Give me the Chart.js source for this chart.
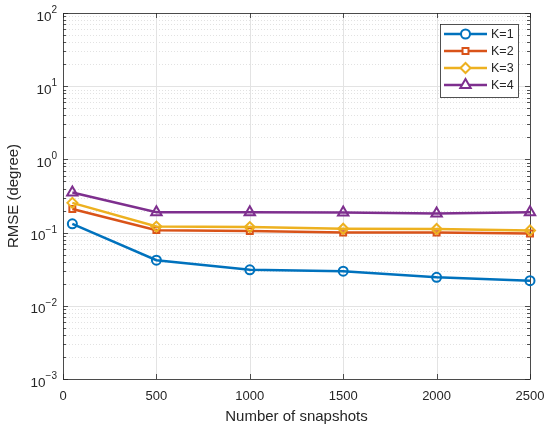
<!DOCTYPE html>
<html>
<head>
<meta charset="utf-8">
<script src="https://cdn.jsdelivr.net/npm/chart.js@4"></script>
<style>
html, body { margin: 0; padding: 0; background: #fff; }
#wrap { width: 550px; height: 430px; }
</style>
</head>
<body>
<div id="wrap"><canvas id="rmseGrafiek"></canvas></div>
<script>
// data
const snapshots = [50, 500, 1000, 1500, 2000, 2500];
const rmseK1 = [0.132, 0.042, 0.031, 0.0297, 0.0245, 0.022];
const rmseK2 = [0.21, 0.108, 0.105, 0.100, 0.100, 0.097];
const rmseK3 = [0.255, 0.121, 0.119, 0.113, 0.112, 0.107];
const rmseK4 = [0.354, 0.19, 0.19, 0.188, 0.182, 0.19];
const seriesLabels = ["K=1", "K=2", "K=3", "K=4"];
const xTicks = [0, 500, 1000, 1500, 2000, 2500];
const yExponents = [-3, -2, -1, 0, 1, 2];

const kleuren = ["#0072BD", "#D95319", "#EDB120", "#7E2F8E"];
const markers = ["circle", "rect", "rectRot", "triangle"];
const radii = [4.5, 4.2, 5, 6];
const tekstKleur = "#262626";
const fontNaam = '"Liberation Sans", Arial, sans-serif';

const reeksen = [rmseK1, rmseK2, rmseK3, rmseK4];

const datasets = reeksen.map((vals, i) => ({
    label: seriesLabels[i],
    data: snapshots.map((x, j) => ({ x, y: vals[j] })),
    borderColor: kleuren[i],
    backgroundColor: "rgba(0,0,0,0)",
    borderWidth: 2.5,
    pointStyle: markers[i],
    pointRadius: radii[i],
    pointBorderWidth: 2,
    pointBackgroundColor: "rgba(0,0,0,0)",
    pointBorderColor: kleuren[i],
    order: 4 - i,
    clip: false,
    tension: 0
}));

// rooster, kader, tekst en legende in MATLAB-stijl
const matlabStijl = {
    id: "matlabStijl",
    beforeDatasetsDraw(chart) {
        const { ctx, chartArea: a, scales } = chart;
        const sx = scales.x, sy = scales.y;
        ctx.save();

        // kleine rasterlijnen (stippel)
        ctx.strokeStyle = "#cfcfcf";
        ctx.lineWidth = 0.6;
        ctx.setLineDash([1, 2]);
        yExponents.slice(0, -1).forEach(e => {
            for (let m = 2; m <= 9; m++) {
                const y = Math.round(sy.getPixelForValue(m * Math.pow(10, e))) + 0.5;
                ctx.beginPath(); ctx.moveTo(a.left, y); ctx.lineTo(a.right, y); ctx.stroke();
            }
        });

        // grote rasterlijnen
        ctx.setLineDash([]);
        ctx.strokeStyle = "#e3e3e3";
        ctx.lineWidth = 1;
        yExponents.forEach(e => {
            const y = Math.round(sy.getPixelForValue(Math.pow(10, e))) + 0.5;
            ctx.beginPath(); ctx.moveTo(a.left, y); ctx.lineTo(a.right, y); ctx.stroke();
        });
        xTicks.forEach(v => {
            const x = Math.round(sx.getPixelForValue(v)) + 0.5;
            ctx.beginPath(); ctx.moveTo(x, a.top); ctx.lineTo(x, a.bottom); ctx.stroke();
        });

        // kader + tickjes
        ctx.strokeStyle = tekstKleur;
        ctx.lineWidth = 0.8;
        ctx.strokeRect(a.left + 0.5, a.top + 0.5, a.right - a.left, a.bottom - a.top);
        ctx.beginPath();
        xTicks.forEach(v => {
            const x = Math.round(sx.getPixelForValue(v)) + 0.5;
            ctx.moveTo(x, a.bottom); ctx.lineTo(x, a.bottom - 5);
            ctx.moveTo(x, a.top); ctx.lineTo(x, a.top + 5);
        });
        yExponents.forEach((e, k) => {
            const y = Math.round(sy.getPixelForValue(Math.pow(10, e))) + 0.5;
            ctx.moveTo(a.left, y); ctx.lineTo(a.left + 5, y);
            ctx.moveTo(a.right, y); ctx.lineTo(a.right - 5, y);
            if (k === yExponents.length - 1) return;
            for (let m = 2; m <= 9; m++) {
                const ym = Math.round(sy.getPixelForValue(m * Math.pow(10, e))) + 0.5;
                ctx.moveTo(a.left, ym); ctx.lineTo(a.left + 3, ym);
                ctx.moveTo(a.right, ym); ctx.lineTo(a.right - 3, ym);
            }
        });
        ctx.stroke();
        ctx.restore();
    },
    afterDatasetsDraw(chart) {
        const { ctx, chartArea: a, scales } = chart;
        const sx = scales.x, sy = scales.y;
        ctx.save();
        ctx.fillStyle = tekstKleur;

        // x-as labels
        ctx.font = "13px " + fontNaam;
        ctx.textAlign = "center";
        ctx.textBaseline = "middle";
        xTicks.forEach(v => ctx.fillText(String(v), sx.getPixelForValue(v), a.bottom + 17));

        // y-as labels met exponent
        ctx.textAlign = "left";
        ctx.textBaseline = "alphabetic";
        yExponents.forEach(e => {
            const y = sy.getPixelForValue(Math.pow(10, e));
            const exp = e < 0 ? "\u2212" + Math.abs(e) : String(e);
            ctx.font = "10px " + fontNaam;
            const w2 = ctx.measureText(exp).width;
            ctx.font = "13.5px " + fontNaam;
            const w1 = ctx.measureText("10").width;
            const x0 = a.left - 6 - w2 - w1;
            ctx.fillText("10", x0, y + 7.5);
            ctx.font = "10px " + fontNaam;
            ctx.fillText(exp, x0 + w1, y);
        });

        // astitels
        ctx.font = "15px " + fontNaam;
        ctx.textAlign = "center";
        ctx.textBaseline = "middle";
        ctx.fillText("Number of snapshots", (a.left + a.right) / 2, a.bottom + 38);
        ctx.save();
        ctx.translate(14, (a.top + a.bottom) / 2);
        ctx.rotate(-Math.PI / 2);
        ctx.fillText("RMSE (degree)", 0, 0);
        ctx.restore();

        // legende rechtsboven
        const lx = 440, ly = 24, lw = 78, lh = 73;
        ctx.fillStyle = "#fff";
        ctx.fillRect(lx, ly, lw, lh);
        ctx.strokeStyle = tekstKleur;
        ctx.lineWidth = 0.8;
        ctx.strokeRect(lx + 0.5, ly + 0.5, lw, lh);
        ctx.font = "12.5px " + fontNaam;
        ctx.textAlign = "left";
        chart.data.datasets.forEach((ds, i) => {
            const y = ly + 10 + i * 17;
            ctx.strokeStyle = ds.borderColor;
            ctx.lineWidth = 2.5;
            ctx.beginPath(); ctx.moveTo(lx + 4, y); ctx.lineTo(lx + 47, y); ctx.stroke();
            ctx.fillStyle = "#fff";
            ctx.lineWidth = 2;
            Chart.helpers.drawPoint(ctx, {
                pointStyle: ds.pointStyle, radius: ds.pointRadius, borderWidth: 2, rotation: 0
            }, lx + 25.5, y);
            ctx.fillStyle = tekstKleur;
            ctx.fillText(ds.label, lx + 51, y + 1);
        });
        ctx.restore();
    }
};

new Chart(document.getElementById("rmseGrafiek"), {
    type: "line",
    data: { datasets },
    options: {
        responsive: true,
        maintainAspectRatio: false,
        animation: false,
        layout: { padding: { left: 63, top: 13, right: 20, bottom: 51 } },
        plugins: { legend: { display: false }, tooltip: { enabled: false } },
        scales: {
            x: { type: "linear", min: 0, max: 2500, display: false },
            y: { type: "logarithmic", min: 0.001, max: 100, display: false }
        }
    },
    plugins: [matlabStijl]
});
</script>
</body>
</html>
